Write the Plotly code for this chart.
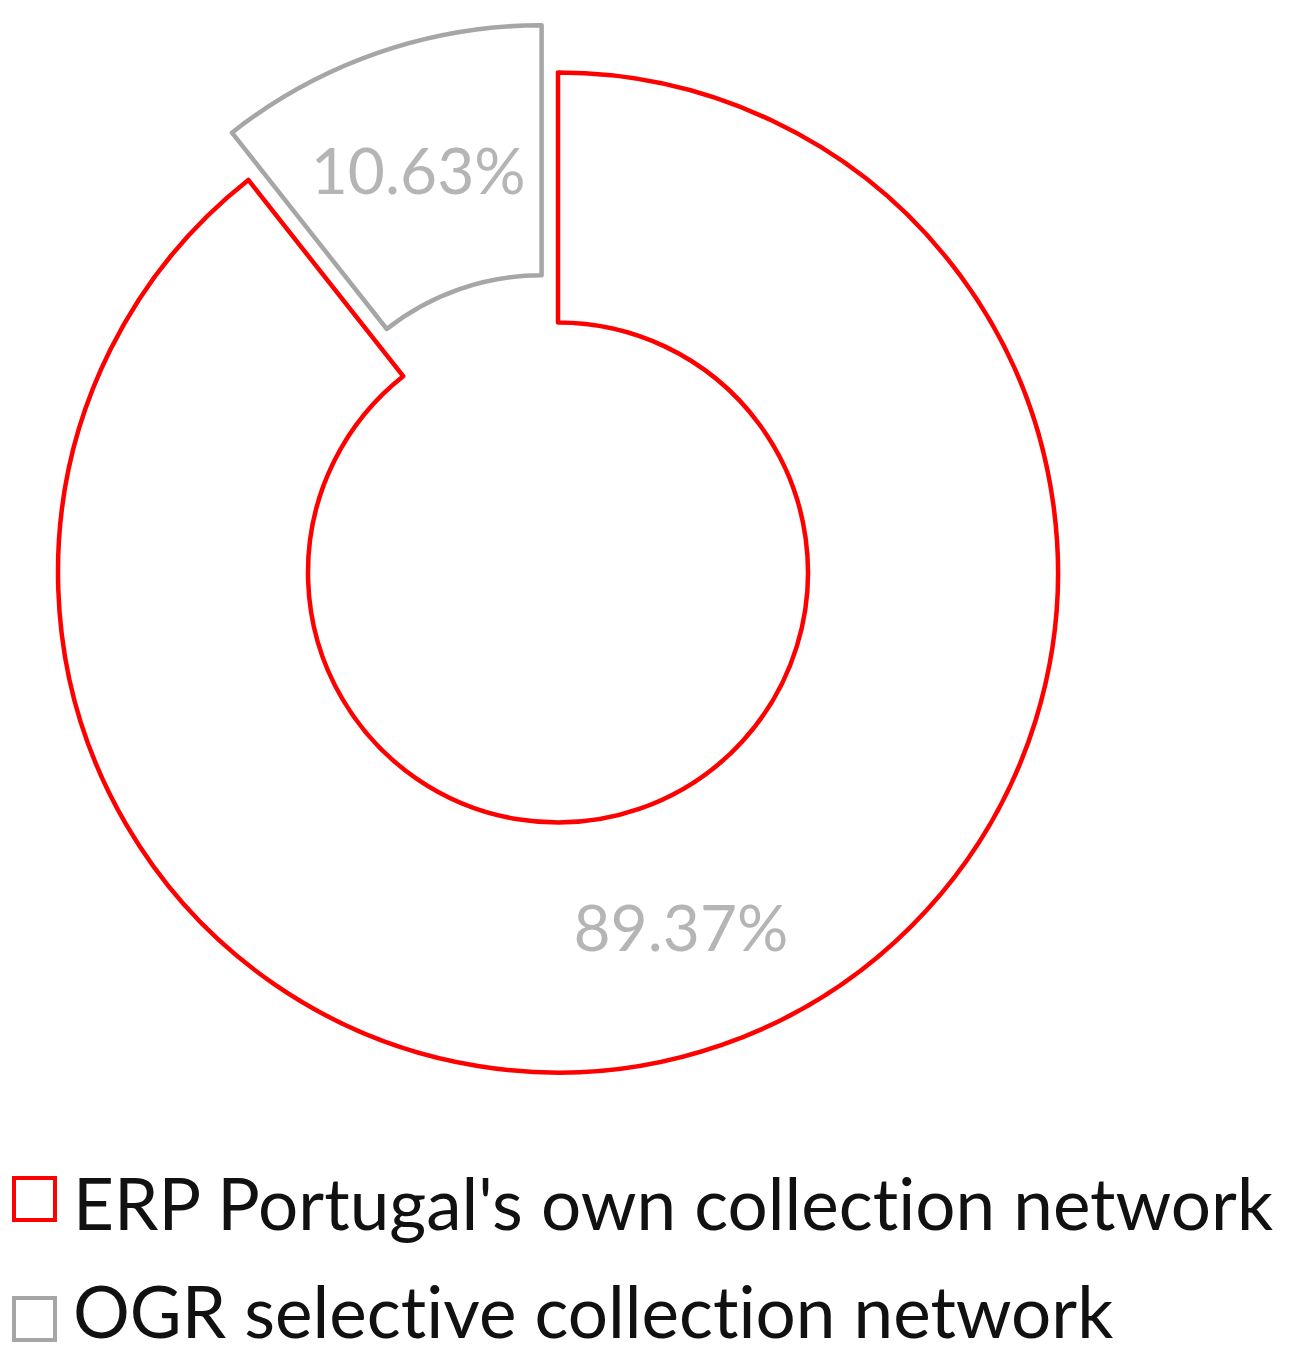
import plotly.graph_objects as go

labels = ["ERP Portugal's own collection network", "OGR selective collection network"]
values = [89.37, 10.63]
line_colors = ["#ff0000", "#a6a6a6"]
pulls = [0, 0.1]

W, H = 1289, 1365
# the page body adds an 8px margin, so positions below are in figure pixels
CX, CY, BOX = 550, 564.5, 1100

fig = go.Figure()

fig.add_trace(
    go.Pie(
        labels=labels,
        values=values,
        hole=0.5,
        sort=False,
        direction="clockwise",
        rotation=0,
        pull=pulls,
        marker=dict(colors=["white", "white"], line=dict(color=line_colors, width=4.5)),
        texttemplate="%{percent:.2%}",
        textposition="inside",
        insidetextorientation="horizontal",
        textfont=dict(family="Lato", size=64, color="#b5b5b5"),
        showlegend=False,
        hoverinfo="label+percent",
        domain=dict(
            x=[(CX - BOX / 2) / W, (CX + BOX / 2) / W],
            y=[1 - (CY + BOX / 2) / H, 1 - (CY - BOX / 2) / H],
        ),
    )
)

# legend drawn by hand so the swatches can match the large text
swatch_y = [1191, 1311]
text_y = [1194, 1302]
for label, color, sy, ty in zip(labels, line_colors, swatch_y, text_y):
    fig.add_shape(
        type="rect",
        xref="paper",
        yref="paper",
        x0=6 / W,
        x1=47 / W,
        y0=1 - (sy + 21) / H,
        y1=1 - (sy - 21) / H,
        line=dict(color=color, width=4),
        fillcolor="white",
    )
    fig.add_annotation(
        xref="paper",
        yref="paper",
        x=63 / W,
        y=1 - ty / H,
        xanchor="left",
        yanchor="middle",
        # zero-width non-joiner keeps Lato from drawing a "ti" ligature
        text=label.replace("ti", "t\u200ci"),
        showarrow=False,
        font=dict(family="Lato", size=71, color="#111111"),
    )

fig.update_layout(
    width=W,
    height=H,
    margin=dict(l=0, r=0, t=0, b=0),
    paper_bgcolor="white",
    plot_bgcolor="white",
)

fig.write_html("out.html")
